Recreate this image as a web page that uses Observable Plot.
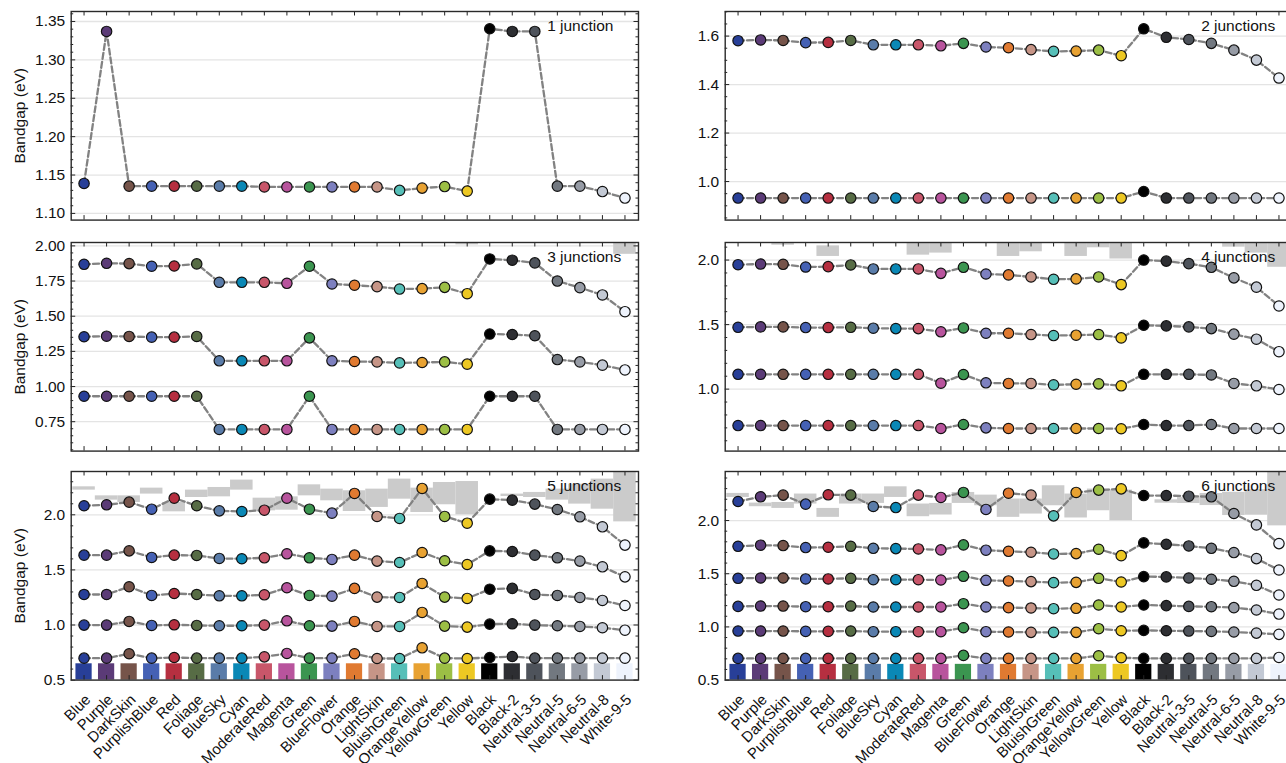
<!DOCTYPE html>
<html><head><meta charset="utf-8">
<script src="https://cdn.jsdelivr.net/npm/d3@7"></script>
<script src="https://cdn.jsdelivr.net/npm/@observablehq/plot@0.6"></script>
<style>
html,body{margin:0;padding:0;background:#fff;overflow:hidden;}
#fig{position:relative;width:1286px;height:763px;overflow:hidden;background:#fff;}
#fig svg{position:absolute;max-width:none;background:transparent;}
</style></head><body><div id="fig"></div>
<script>
const categories = ["Blue","Purple","DarkSkin","PurplishBlue","Red","Foliage","BlueSky","Cyan","ModerateRed","Magenta","Green","BlueFlower","Orange","LightSkin","BluishGreen","OrangeYellow","YellowGreen","Yellow","Black","Black-2","Neutral-3-5","Neutral-5","Neutral-6-5","Neutral-8","White-9-5"];
const swatchColors = ["#283f98","#5b3b77","#76544a","#4561b4","#b62f40","#576c45","#5a7ca9","#0a88b6","#c8566a","#b8549d","#3b9550","#7d80bf","#e07a31","#c69587","#56bfb8","#e8a232","#9cbf45","#edc823","#000000","#2d2e32","#4e535b","#727880","#979ca6","#c3c9d4","#eef3fc"];

// 1 junction
const j1 = [[1.139,1.337,1.1355,1.1355,1.1355,1.1355,1.1355,1.1355,1.1345,1.1345,1.1345,1.1345,1.1345,1.1345,1.130,1.133,1.135,1.129,1.3405,1.337,1.337,1.1355,1.1355,1.1285,1.120]];
// 2 junctions
const j2 = [
 [1.581,1.584,1.582,1.573,1.574,1.582,1.564,1.564,1.564,1.560,1.570,1.555,1.552,1.544,1.537,1.538,1.542,1.519,1.630,1.595,1.586,1.570,1.542,1.501,1.427],
 [0.932,0.932,0.932,0.932,0.932,0.932,0.932,0.932,0.932,0.932,0.932,0.932,0.932,0.932,0.932,0.932,0.932,0.932,0.959,0.932,0.932,0.932,0.932,0.932,0.932]];
// 3 junctions
const j3 = [
 [1.869,1.876,1.874,1.855,1.857,1.872,1.741,1.741,1.741,1.734,1.855,1.729,1.720,1.710,1.693,1.696,1.705,1.660,1.907,1.898,1.879,1.750,1.703,1.651,1.532],
 [1.354,1.358,1.356,1.351,1.351,1.356,1.183,1.183,1.183,1.183,1.346,1.183,1.178,1.175,1.168,1.171,1.175,1.159,1.373,1.370,1.361,1.192,1.175,1.152,1.118],
 [0.931,0.931,0.931,0.931,0.931,0.931,0.695,0.695,0.695,0.695,0.931,0.695,0.695,0.695,0.695,0.695,0.695,0.695,0.931,0.931,0.931,0.695,0.695,0.695,0.695]];
// 4 junctions
const j4 = [
 [1.964,1.969,1.967,1.946,1.949,1.962,1.931,1.931,1.931,1.897,1.944,1.892,1.885,1.869,1.851,1.854,1.869,1.810,2.000,1.992,1.972,1.944,1.862,1.790,1.644],
 [1.479,1.482,1.482,1.477,1.477,1.479,1.472,1.469,1.469,1.444,1.474,1.433,1.433,1.423,1.415,1.418,1.423,1.397,1.495,1.490,1.482,1.469,1.426,1.387,1.290],
 [1.115,1.115,1.115,1.115,1.115,1.115,1.115,1.115,1.115,1.046,1.113,1.049,1.044,1.044,1.033,1.038,1.041,1.026,1.115,1.115,1.115,1.110,1.044,1.026,0.997],
 [0.718,0.718,0.718,0.718,0.718,0.718,0.718,0.718,0.718,0.695,0.726,0.700,0.695,0.695,0.695,0.695,0.695,0.693,0.726,0.718,0.718,0.726,0.695,0.695,0.695]];
// 5 junctions
const j5 = [
 [2.082,2.091,2.115,2.051,2.151,2.082,2.036,2.030,2.042,2.151,2.051,2.015,2.194,1.985,1.967,2.239,1.985,1.924,2.142,2.133,2.097,2.048,1.982,1.891,1.725],
 [1.634,1.634,1.673,1.613,1.634,1.631,1.604,1.601,1.610,1.646,1.610,1.595,1.634,1.580,1.567,1.658,1.583,1.549,1.673,1.667,1.634,1.610,1.580,1.528,1.437],
 [1.277,1.277,1.347,1.268,1.286,1.277,1.265,1.265,1.274,1.338,1.268,1.262,1.332,1.253,1.250,1.377,1.253,1.241,1.325,1.332,1.277,1.268,1.250,1.223,1.177],
 [0.999,0.999,1.032,0.996,1.002,0.996,0.993,0.993,0.999,1.038,0.993,0.990,1.032,0.987,0.987,1.114,0.990,0.981,1.008,1.011,0.999,0.993,0.987,0.975,0.953],
 [0.699,0.699,0.739,0.699,0.705,0.699,0.699,0.699,0.711,0.742,0.699,0.699,0.739,0.696,0.696,0.793,0.699,0.696,0.705,0.714,0.699,0.699,0.699,0.699,0.699]];
// 6 junctions
const j6 = [
 [2.179,2.223,2.239,2.154,2.242,2.239,2.132,2.122,2.239,2.217,2.264,2.104,2.257,2.239,2.044,2.264,2.286,2.298,2.235,2.235,2.229,2.223,2.066,1.959,1.783],
 [1.758,1.768,1.765,1.746,1.749,1.758,1.739,1.736,1.733,1.724,1.771,1.721,1.711,1.702,1.686,1.689,1.730,1.670,1.790,1.777,1.761,1.739,1.699,1.642,1.535],
 [1.457,1.460,1.460,1.451,1.451,1.457,1.444,1.444,1.444,1.441,1.476,1.438,1.432,1.426,1.416,1.419,1.457,1.422,1.473,1.470,1.460,1.448,1.429,1.391,1.300],
 [1.193,1.196,1.196,1.190,1.190,1.196,1.187,1.187,1.187,1.187,1.218,1.187,1.181,1.178,1.171,1.175,1.206,1.187,1.206,1.200,1.193,1.190,1.181,1.159,1.121],
 [0.961,0.961,0.961,0.958,0.958,0.961,0.955,0.955,0.955,0.955,0.992,0.955,0.952,0.949,0.949,0.949,0.983,0.964,0.967,0.964,0.961,0.958,0.952,0.942,0.930],
 [0.704,0.704,0.704,0.704,0.704,0.704,0.704,0.704,0.704,0.704,0.732,0.704,0.704,0.704,0.704,0.704,0.729,0.710,0.704,0.704,0.704,0.704,0.704,0.704,0.713]];

// gray ranges: [category, low, high]
const range3 = [["Yellow",2.007,2.3],["White-9-5",1.94,2.3]];
const range4 = [["DarkSkin",2.115,2.3],["Red",2.028,2.110],["ModerateRed",2.038,2.3],["Magenta",2.054,2.3],["Orange",2.028,2.3],["LightSkin",2.064,2.3],["OrangeYellow",2.028,2.3],["YellowGreen",2.095,2.3],["Yellow",2.008,2.3],["Neutral-6-5",2.10,2.3],["Neutral-8",2.054,2.3],["White-9-5",1.944,2.3]];
const range5 = [["Blue",2.224,2.254],["Purple",2.133,2.172],["DarkSkin",2.112,2.172],["PurplishBlue",2.188,2.242],["Red",2.027,2.112],["Foliage",2.157,2.224],["BlueSky",2.163,2.248],["Cyan",2.224,2.315],["ModerateRed",2.036,2.151],["Magenta",2.042,2.163],["Green",2.172,2.272],["BlueFlower",2.127,2.233],["Orange",2.030,2.218],["LightSkin",2.067,2.233],["BluishGreen",2.142,2.324],["OrangeYellow",2.021,2.242],["YellowGreen",2.091,2.293],["Yellow",2.000,2.302],["Black-2",2.166,2.188],["Neutral-3-5",2.157,2.203],["Neutral-5",2.133,2.233],["Neutral-6-5",2.097,2.278],["Neutral-8",2.051,2.324],["White-9-5",1.936,2.6]];
const range6 = [["Blue",2.217,2.255],["Purple",2.130,2.164],["DarkSkin",2.114,2.170],["PurplishBlue",2.155,2.249],["Red",2.030,2.114],["Foliage",2.155,2.249],["BlueSky",2.161,2.249],["Cyan",2.217,2.317],["ModerateRed",2.036,2.155],["Magenta",2.052,2.161],["Green",2.161,2.264],["BlueFlower",2.139,2.239],["Orange",2.030,2.202],["LightSkin",2.061,2.202],["BluishGreen",2.139,2.327],["OrangeYellow",2.024,2.249],["YellowGreen",2.092,2.296],["Yellow",1.999,2.286],["Black-2",2.163,2.195],["Neutral-3-5",2.160,2.216],["Neutral-5",2.141,2.254],["Neutral-6-5",2.047,2.266],["Neutral-8",2.050,2.290],["White-9-5",1.950,2.6]];

const ticks1 = [1.10,1.15,1.20,1.25,1.30,1.35];
const ticks2 = [1.0,1.2,1.4,1.6];
const ticks3 = [0.75,1.00,1.25,1.50,1.75,2.00];
const ticks4 = [1.0,1.5,2.0];
const ticks56 = [0.5,1.0,1.5,2.0];
const labels = ["1 junction","2 junctions","3 junctions","4 junctions","5 junctions","6 junctions"];

const FONT = "'Liberation Sans', Arial, Helvetica, sans-serif";
const FW = 567.3, FH = 208.6, ML = 70.7, MR = 10, MT = 10;
const fig = document.getElementById("fig");

function panel(o) {
  const rows = [];
  o.series.forEach((s, k) => s.forEach((v, i) => rows.push({i, v, k, c: swatchColors[i]})));
  const idx = categories.map((c, i) => i);
  const minor = d3.range(Math.ceil(o.domain[0] / o.minor - 1e-6), Math.floor(o.domain[1] / o.minor + 1e-6) + 1)
    .map(n => +(n * o.minor).toFixed(4)).filter(v => !o.ticks.some(t => Math.abs(t - v) < 1e-6));
  const rr = (o.ranges || []).map(([name, lo, hi]) => ({i: categories.indexOf(name), lo, hi}));
  const mb = o.xlabels ? 93 : 10;
  const marks = [
    Plot.ruleY(o.ticks, {stroke: "#e4e4e4", strokeWidth: 1.3}),
    Plot.rect(rr, {x1: d => d.i - 0.5, x2: d => d.i + 0.5, y1: "lo", y2: "hi", fill: "#cbcbcb", clip: true}),
  ];
  if (o.swatch) marks.push(Plot.rect(idx, {x1: d => d - 0.36, x2: d => d + 0.36, y1: 0.5, y2: 0.648, fill: d => swatchColors[d]}));
  marks.push(
    Plot.line(rows, {x: "i", y: "v", z: "k", stroke: "#828282", strokeWidth: 2.3, strokeDasharray: "6,3"}),
    Plot.dot(rows, {x: "i", y: "v", r: 5.2, fill: "c", stroke: "#111", strokeWidth: 1.2}),
    Plot.tickY(o.ticks, {y: d => d, insetRight: FW - 4.5, stroke: "#222"}),
    Plot.tickY(o.ticks, {y: d => d, insetLeft: FW - 4.5, stroke: "#222"}),
    Plot.tickY(minor, {y: d => d, insetRight: FW - 2.5, stroke: "#222"}),
    Plot.tickY(minor, {y: d => d, insetLeft: FW - 2.5, stroke: "#222"}),
    Plot.tickX(idx, {x: d => d, insetTop: FH - 4.5, stroke: "#222"}),
    Plot.tickX(idx, {x: d => d, insetBottom: FH - 4.5, stroke: "#222"}),
    Plot.frame({stroke: "#2a2a2a", strokeWidth: 1.4}),
    Plot.text(o.ticks, {y: d => d, text: d => d.toFixed(o.digits), frameAnchor: "left", dx: -6, textAnchor: "end", fontSize: 15.5, fill: "#111"}),
    Plot.text([o.label], {text: d => d, frameAnchor: "top-left", dx: 0.839 * FW, dy: 20, textAnchor: "start", lineAnchor: "bottom", fontSize: 15.5, fill: "#111"})
  );
  if (o.ylabel) marks.push(Plot.text(["Bandgap (eV)"], {text: d => d, frameAnchor: "left", dx: 24 - ML, rotate: -90, textAnchor: "middle", lineAnchor: "bottom", fontSize: 15.5, fill: "#111"}));
  if (o.xlabels) marks.push(Plot.text(categories, {x: (d, i) => i, text: d => d, frameAnchor: "bottom", rotate: -45, textAnchor: "end", lineAnchor: "middle", dx: 4, dy: 17, fontSize: 15, fill: "#111"}));
  const svg = Plot.plot({
    width: ML + FW + MR, height: MT + FH + mb,
    marginLeft: ML, marginRight: MR, marginTop: MT, marginBottom: mb,
    x: {domain: [-0.57, 24.6], axis: null},
    y: {domain: o.domain, axis: null},
    color: {type: "identity"},
    style: {fontFamily: FONT, fontSize: "15px", background: "transparent", overflow: "visible"},
    marks
  });
  svg.style.left = (o.left - ML) + "px";
  svg.style.top = (o.top - MT) + "px";
  fig.appendChild(svg);
}

const LX = 70.7, RX = 724.5, T1 = 10.7, T2 = 241.5, T3 = 471.3;
panel({series: j1, domain: [1.0913, 1.363], ticks: ticks1, minor: 0.01, digits: 2, label: labels[0], ylabel: true, left: LX, top: T1});
panel({series: j2, domain: [0.841, 1.7014], ticks: ticks2, minor: 0.05, digits: 1, label: labels[1], left: RX, top: T1});
panel({series: j3, ranges: range3, domain: [0.541, 2.024], ticks: ticks3, minor: 0.05, digits: 2, label: labels[2], ylabel: true, left: LX, top: T2});
panel({series: j4, ranges: range4, domain: [0.52, 2.136], ticks: ticks4, minor: 0.1, digits: 1, label: labels[3], left: RX, top: T2});
panel({series: j5, ranges: range5, domain: [0.5, 2.393], ticks: ticks56, minor: 0.1, digits: 1, label: labels[4], ylabel: true, xlabels: true, swatch: true, left: LX, top: T3});
panel({series: j6, ranges: range6, domain: [0.5, 2.461], ticks: ticks56, minor: 0.1, digits: 1, label: labels[5], xlabels: true, swatch: true, left: RX, top: T3});
</script></body></html>
